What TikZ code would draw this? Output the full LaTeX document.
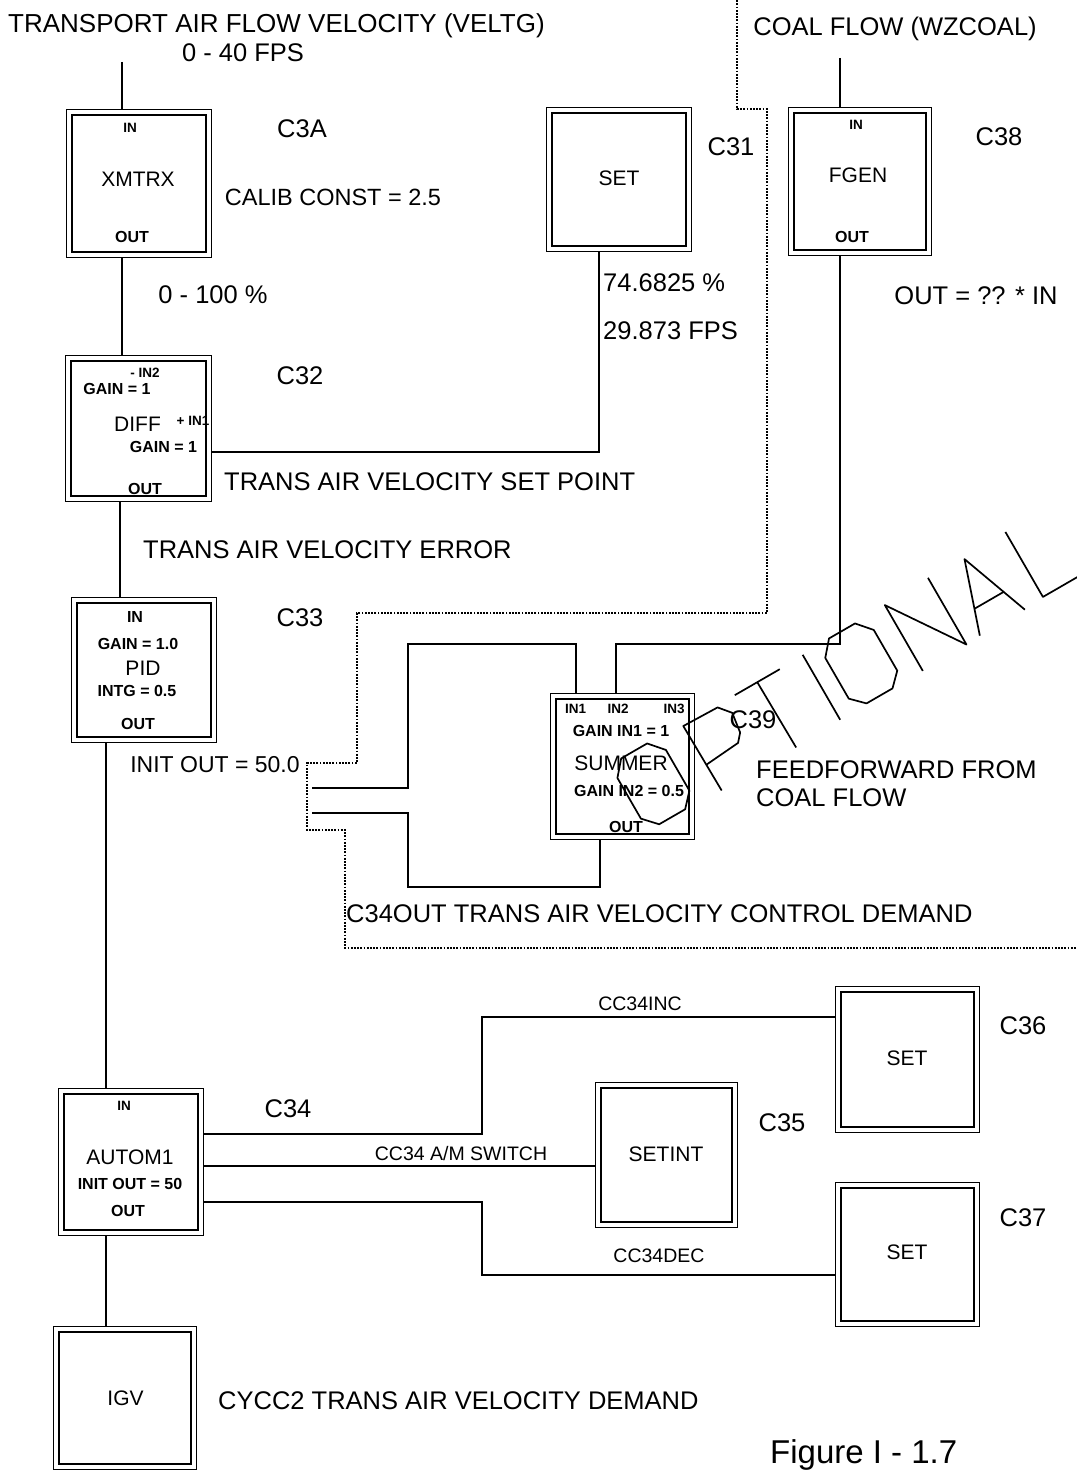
\documentclass[tikz,border=0pt]{standalone}
\usepackage{fontspec}
\setmainfont{Liberation Sans}
\begin{document}
\begin{tikzpicture}[x=1pt,y=-1pt,
  dbox/.style={draw, rectangle, double, line width=1.4pt, double distance=3.8pt, inner sep=0pt, outer sep=3.3pt},
  conn/.style={line width=1.7pt},
  dots/.style={line width=1.9pt, dash pattern=on 1.8pt off 1.4pt},
  lbl/.style={font=\fontsize{25.5}{28}\selectfont, inner sep=0pt, anchor=base},
  ttl/.style={font=\fontsize{21}{24}\selectfont, inner sep=0pt, anchor=base},
  cl/.style={font=\fontsize{19.5}{22}\selectfont, inner sep=0pt, anchor=base},
  sml/.style={font=\bfseries\fontsize{16}{18}\selectfont, inner sep=0pt, anchor=base},
  tny/.style={font=\bfseries\fontsize{13.5}{15}\selectfont, inner sep=0pt, anchor=base},
  wm/.style={line width=1.7pt, line join=round}
]
\path[use as bounding box, fill=white] (0,0) rectangle (1076,1471);

% ---------------- boxes ----------------
\node[dbox, minimum width=139.4pt, minimum height=142.4pt] (xmtrx) at (139,183.5) {};
\node[dbox, minimum width=139.4pt, minimum height=138.4pt] (set31) at (619,179.5) {};
\node[dbox, minimum width=137.4pt, minimum height=142.4pt] (fgen) at (860,181.5) {};
\node[dbox, minimum width=140.4pt, minimum height=140.4pt] (diff) at (138.5,428.5) {};
\node[dbox, minimum width=139.4pt, minimum height=139.4pt] (pid) at (144,670) {};
\node[dbox, minimum width=138.4pt, minimum height=140.4pt] (summer) at (622.5,766.5) {};
\node[dbox, minimum width=139.4pt, minimum height=141.4pt] (autom) at (131,1162) {};
\node[dbox, minimum width=136.4pt, minimum height=139.4pt] (setint) at (666.5,1155) {};
\node[dbox, minimum width=138.4pt, minimum height=140.4pt] (set36) at (907.5,1059.5) {};
\node[dbox, minimum width=138.4pt, minimum height=138.4pt] (set37) at (907.5,1254.5) {};
\node[dbox, minimum width=137.4pt, minimum height=137.4pt] (igv) at (125,1398) {};

% ---------------- connectors ----------------
\coordinate (vin) at (122,62);
\draw[conn] (vin) -- (vin |- xmtrx.north);
\draw[conn] (vin |- xmtrx.south) -- (vin |- diff.north);
\coordinate (spt) at (599,452);
\draw[conn] (diff.east |- spt) -- (spt) -- (spt |- set31.south);
\coordinate (err) at (120,0);
\draw[conn] (err |- diff.south) -- (err |- pid.north);
\coordinate (outl) at (106,0);
\draw[conn] (outl |- pid.south) -- (outl |- autom.north);
\draw[conn] (outl |- autom.south) -- (outl |- igv.north);

\coordinate (fa) at (312,788);
\coordinate (fb) at (312,813);
\coordinate (k1) at (408,644);
\coordinate (k2) at (576,644);
\draw[conn] (fa) -| (k1) -- (k2) -- (k2 |- summer.north);
\coordinate (k3) at (408,887);
\coordinate (k4) at (600,887);
\draw[conn] (fb) -| (k3) -- (k4) -- (k4 |- summer.south);
\coordinate (k5) at (616,644);
\coordinate (k6) at (840,644);
\draw[conn] (k5 |- summer.north) -- (k5) -- (k6) -- (k6 |- fgen.south);
\coordinate (cin) at (840,58);
\draw[conn] (cin) -- (cin |- fgen.north);

\coordinate (b1) at (482,1134);
\coordinate (b2) at (482,1017);
\draw[conn] (autom.east |- b1) -- (b1) -- (b2) -- (b2 -| set36.west);
\coordinate (b3) at (300,1166);
\draw[conn] (autom.east |- b3) -- (b3 -| setint.west);
\coordinate (b4) at (482,1202);
\coordinate (b5) at (482,1275);
\draw[conn] (autom.east |- b4) -- (b4) -- (b5) -- (b5 -| set37.west);

\coordinate (d0) at (737,-3);
\coordinate (d1) at (1080,948);
\draw[dots] (d0) -- (737,109) -- (767,109) -- (767,613) -- (357,613) -- (357,763) -- (307,763) -- (307,830) -- (345,830) -- (345,948) -- (d1);

% ---------------- large labels ----------------
\node[lbl, font=\fontsize{26}{28}\selectfont, anchor=base west] (t1) at (8,33) {TRANSPORT AIR FLOW VELOCITY (VELTG)};
\node[lbl] (t2) at (243,62) {0 - 40 FPS};
\node[lbl] (t3) at (302,138) {C3A};
\node[lbl, font=\fontsize{23.5}{26}\selectfont] (t4) at (333,206) {CALIB CONST = 2.5};
\node[lbl] (t5) at (213,303) {0 - 100 \%};
\node[lbl] (t6) at (731,156) {C31};
\node[lbl, anchor=base west] (t7) at (603,291) {74.6825 \%};
\node[lbl, anchor=base west] (t8) at (603,339) {29.873 FPS};
\node[lbl] (t9) at (895,36) {COAL FLOW (WZCOAL)};
\node[lbl] (t10) at (999,146) {C38};
\node[lbl] (t11) at (976,304) {OUT = ?? * IN};
\node[lbl] (t12) at (300,384) {C32};
\node[lbl, anchor=base west] (t13) at (224,490) {TRANS AIR VELOCITY SET POINT};
\node[lbl, anchor=base west] (t14) at (143,558) {TRANS AIR VELOCITY ERROR};
\node[lbl] (t15) at (300,626) {C33};
\node[lbl, font=\fontsize{23}{26}\selectfont] (t16) at (215,772) {INIT OUT = 50.0};
\node[lbl] (t17) at (753,728) {C39};
\node[lbl, anchor=base west] (t18) at (756,778) {FEEDFORWARD FROM};
\node[lbl, anchor=base west] (t19) at (756,806) {COAL FLOW};
\node[lbl, anchor=base west] (t20) at (346,922) {C34OUT TRANS AIR VELOCITY CONTROL DEMAND};
\node[lbl] (t21) at (288,1117) {C34};
\node[lbl] (t22) at (782,1131) {C35};
\node[lbl] (t23) at (1023,1034) {C36};
\node[lbl] (t24) at (1023,1226) {C37};
\node[lbl, anchor=base west] (t25) at (218,1409) {CYCC2 TRANS AIR VELOCITY DEMAND};
\node[font=\fontsize{33}{36}\selectfont, inner sep=0pt, anchor=base west] (t26) at (770,1463) {Figure I - 1.7};

% ---------------- box titles ----------------
\node[ttl] (x1) at (138,187) {XMTRX};
\node[ttl] (x2) at (619,185.5) {SET};
\node[ttl] (x3) at (858,182.5) {FGEN};
\node[ttl] (x4) at (137.5,431) {DIFF};
\node[ttl] (x5) at (143,675.5) {PID};
\node[ttl] (x6) at (621,770.5) {SUMMER};
\node[ttl] (x7) at (130,1164.5) {AUTOM1};
\node[ttl] (x8) at (666,1161.5) {SETINT};
\node[ttl] (x9) at (907,1065.5) {SET};
\node[ttl] (x10) at (907,1259.5) {SET};
\node[ttl] (x11) at (125.5,1405) {IGV};

% ---------------- connector labels ----------------
\node[cl] (c1) at (640,1010) {CC34INC};
\node[cl] (c2) at (461,1160) {CC34 A/M SWITCH};
\node[cl] (c3) at (659,1262) {CC34DEC};

% ---------------- small labels ----------------
\node[tny] (s1) at (130,132.5) {IN};
\node[sml] (s2) at (132,242.5) {OUT};
\node[tny] (s3) at (145,377) {- IN2};
\node[sml] (s4) at (117,394.5) {GAIN = 1};
\node[tny] (s5) at (193,425) {+ IN1};
\node[sml] (s6) at (163.5,452.5) {GAIN = 1};
\node[sml] (s7) at (145,494) {OUT};
\node[sml] (s8) at (135,622.5) {IN};
\node[sml] (s9) at (138,649) {GAIN = 1.0};
\node[sml] (s10) at (137,696) {INTG = 0.5};
\node[sml] (s11) at (138,729) {OUT};
\node[tny] (s12) at (575.5,713) {IN1};
\node[tny] (s13) at (618,713) {IN2};
\node[tny] (s14) at (674,713) {IN3};
\node[sml] (s15) at (621,736) {GAIN IN1 = 1};
\node[sml] (s16) at (629,796) {GAIN IN2 = 0.5};
\node[sml] (s17) at (626,832) {OUT};
\node[tny] (s18) at (124,1110) {IN};
\node[sml] (s19) at (130,1189) {INIT OUT = 50};
\node[sml] (s20) at (128,1216) {OUT};
\node[tny] (s21) at (856,130) {IN};
\node[sml] (s22) at (852,243) {OUT};

% ---------------- OPTIONAL stroked lettering ----------------
\begin{scope}[shift={(797,747)}, rotate=30, wm]
  % O
  \draw (-171,-16) -- (-171,-63) -- (-158,-78) -- (-128,-78) -- (-115,-63) -- (-115,-16) -- (-128,-2) -- (-158,-2) -- cycle;
  % P
  \draw (-87,0) -- (-88,-75) -- (-49,-74) -- (-39,-62) -- (-42,-41) -- (-49,-33) -- (-87,-30);
  % T
  \draw (-28,-76) -- (24,-76);
  \draw (-2,-76) -- (-1,0);
  % I
  \draw (51,-77) -- (51,-2);
  % O
  \draw (69,-16) -- (69,-63) -- (82,-78) -- (112,-78) -- (125,-63) -- (125,-16) -- (112,-3) -- (82,-3) -- cycle;
  % N
  \draw (147,-3) -- (147,-79) -- (198,-4) -- (198,-81);
  % A
  \draw (214,-5) -- (239,-79) -- (266,-5);
  \draw (223,-31) -- (257,-31);
  % L
  \draw (288,-82) -- (288,-7) -- (345,-7);
\end{scope}
\end{tikzpicture}
\end{document}
